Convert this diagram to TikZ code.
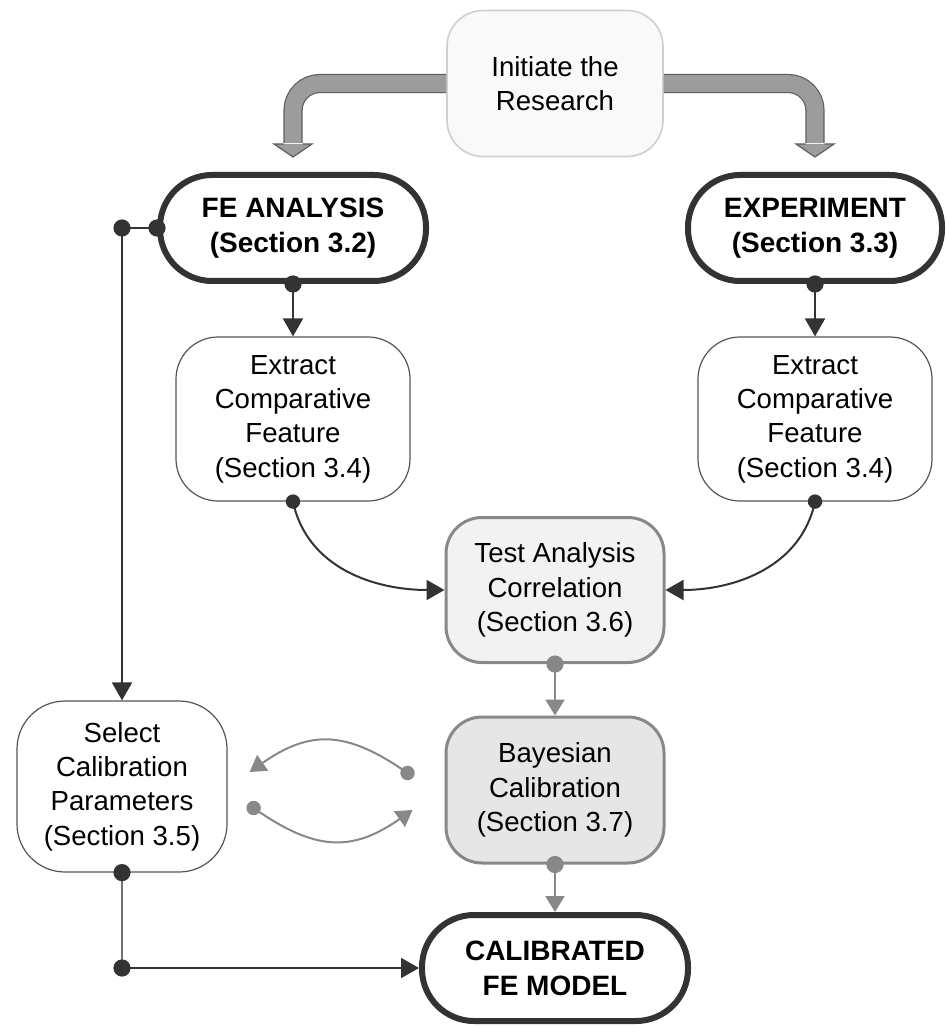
\documentclass[tikz,border=0pt]{standalone}
\usepackage{fontspec}
\setmainfont{Liberation Sans}
\usepackage{tikz}
\usetikzlibrary{arrows.meta,calc}
\tikzset{every picture/.style={line width=0.75pt}}

\definecolor{inkdark}{HTML}{333333}
\definecolor{inkgray}{HTML}{888888}
\definecolor{bandfill}{HTML}{9C9C9C}
\definecolor{bandedge}{HTML}{5E5E5E}
\definecolor{softedge}{HTML}{CFCFCF}
\definecolor{softfill}{HTML}{F9F9F9}
\definecolor{tacfill}{HTML}{F2F2F2}
\definecolor{bayfill}{HTML}{E6E6E6}
\definecolor{boxedge}{HTML}{555555}

\tikzset{
  txt/.style={align=center, inner sep=0pt, font=\fontsize{13.8}{17.2}\selectfont},
  mainbox/.style={txt, draw=inkdark, line width=3pt, fill=white, rounded corners=26pt,
    minimum width=133pt, minimum height=53pt, font=\fontsize{14}{17.5}\selectfont\bfseries},
  stepbox/.style={txt, draw=boxedge, line width=0.6pt, fill=white, rounded corners=21pt,
    minimum width=117pt, minimum height=82pt},
  softbox/.style={txt, draw=softedge, line width=0.8pt, fill=softfill, rounded corners=18pt,
    minimum width=108pt, minimum height=73pt},
  graybox/.style={txt, draw=inkgray, line width=1.5pt, rounded corners=18pt,
    minimum width=109pt, minimum height=72.5pt},
  darkarrow/.style={draw=inkdark, line width=1pt, -{Triangle[width=10pt,length=9pt]}},
  grayarrow/.style={draw=inkgray, line width=1.2pt, -{Triangle[width=9.5pt,length=8pt]}},
  fatband/.style={draw=bandedge, line width=0.6pt, double=bandfill, double distance=8.4pt,
    rounded corners=13.5pt},
}

% 粗箭头的箭头部分
\newcommand{\fathead}[1]{%
  \fill[bandfill] ($(#1)+(-9.5,13)$) -- ($(#1)+(-19,13)$) -- (#1)
    -- ($(#1)+(19,13)$) -- ($(#1)+(9.5,13)$) -- cycle;
  \draw[bandedge, line width=0.6pt] ($(#1)+(-9.5,13)$) -- ($(#1)+(-19,13)$) -- (#1)
    -- ($(#1)+(19,13)$) -- ($(#1)+(9.5,13)$);}

\begin{document}
\begin{tikzpicture}[x=0.5pt, y=0.5pt]
    \useasboundingbox (0,0) rectangle (946,-1026);

    % 绘制各个步骤
    \node[softbox] (init) at (555,-83.5) {Initiate the\\Research};
    \node[mainbox] (fe) at (293,-228) {FE ANALYSIS\\(Section 3.2)};
    \node[mainbox, minimum width=127pt] (exp) at (815,-228) {EXPERIMENT\\(Section 3.3)};
    \node[stepbox] (exl) at (293,-419) {Extract\\Comparative\\Feature\\(Section 3.4)};
    \node[stepbox] (exr) at (815,-419) {Extract\\Comparative\\Feature\\(Section 3.4)};
    \node[graybox, fill=tacfill] (tac) at (555,-590) {Test Analysis\\Correlation\\(Section 3.6)};
    \node[graybox, fill=bayfill, minimum height=73pt] (bay) at (555,-790) {Bayesian\\Calibration\\(Section 3.7)};
    \node[stepbox, minimum width=105pt, minimum height=85.5pt, rounded corners=24pt] (sel)
        at (122,-786.5) {Select\\Calibration\\Parameters\\(Section 3.5)};
    \node[mainbox] (cal) at (555,-968) {CALIBRATED\\FE MODEL};

    % 绘制粗箭头
    \coordinate (ltip) at ($(fe.north)+(0,15)$);
    \coordinate (rtip) at ($(exp.north)+(0,15)$);
    \draw[fatband] (init.west) -| ($(ltip)+(0,14)$);
    \draw[fatband] (init.east) -| ($(rtip)+(0,14)$);
    \fathead{ltip}
    \fathead{rtip}

    % 绘制深色连线
    \coordinate (fecorner) at (sel.north |- fe.west);
    \coordinate (calcorner) at (sel.south |- cal.west);
    \draw[inkdark, line width=0.8pt] (fe.west) -- (fecorner);
    \draw[darkarrow] (fecorner) -- (sel.north);
    \draw[darkarrow] (fe.south) -- (exl.north);
    \draw[darkarrow] (exp.south) -- (exr.north);
    \draw[darkarrow] (exl.south) to[out=-78, in=180] (tac.west);
    \draw[darkarrow] (exr.south) to[out=-102, in=0] (tac.east);
    \draw[gray!90!black, line width=1pt] (sel.south) -- (calcorner);
    \draw[darkarrow] (calcorner) -- (cal.west);

    % 绘制灰色连线
    \draw[grayarrow] (tac.south) -- (bay.north);
    \draw[grayarrow] (bay.south) -- (cal.north);
    \coordinate (upa) at ($(bay.west)+(-37,17)$);
    \coordinate (upb) at ($(sel.east)+(22,14.5)$);
    \coordinate (loa) at ($(sel.east)+(26,-21.5)$);
    \coordinate (lob) at ($(bay.west)+(-32,-20)$);
    \draw[grayarrow, line width=1pt] (upa) to[out=145, in=35, looseness=1.2] (upb);
    \draw[grayarrow, line width=1pt] (loa) to[out=-35, in=-145, looseness=1.2] (lob);

    % 绘制圆点
    \fill[inkdark] (fe.west) circle (4.3pt);
    \fill[inkdark] (fecorner) circle (4.3pt);
    \fill[inkdark] (fe.south) circle (4.3pt);
    \fill[inkdark] (exp.south) circle (4.3pt);
    \fill[inkdark] (exl.south) circle (3.6pt);
    \fill[inkdark] (exr.south) circle (3.6pt);
    \fill[inkdark] (sel.south) circle (4.3pt);
    \fill[inkdark] (calcorner) circle (4.3pt);
    \fill[inkgray] (tac.south) circle (4.3pt);
    \fill[inkgray] (bay.south) circle (4.3pt);
    \fill[inkgray] (upa) circle (3.6pt);
    \fill[inkgray] (loa) circle (3.6pt);
\end{tikzpicture}
\end{document}
